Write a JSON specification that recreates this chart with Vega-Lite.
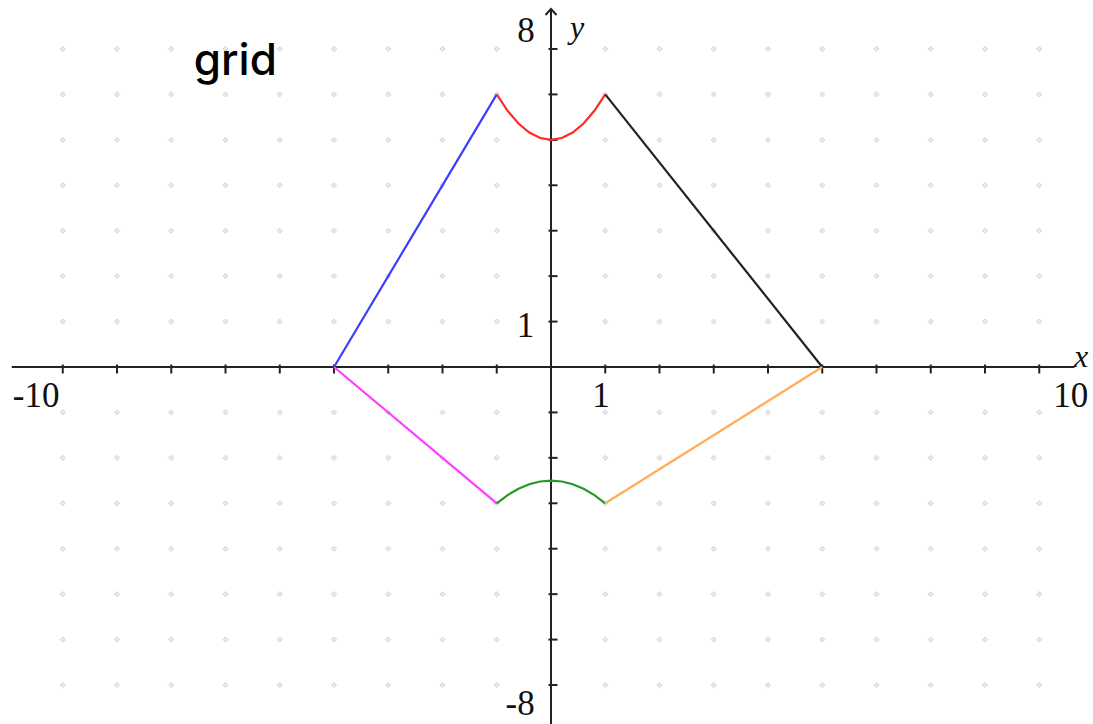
{
  "$schema": "https://vega.github.io/schema/vega-lite/v6.json",
  "width": 1093,
  "height": 724,
  "autosize": "none",
  "padding": 0,
  "background": "white",
  "config": {"view": {"stroke": null}},
  "datasets": {
    "dots": [
      {"y": 7, "xs": [-9,-8,-7,-6,-5,-4,-3,-2,-1,1,2,3,4,5,6,7,8,9]},
      {"y": 6, "xs": [-9,-8,-7,-6,-5,-4,-3,-2,-1,1,2,3,4,5,6,7,8,9]},
      {"y": 5, "xs": [-9,-8,-7,-6,-5,-4,-3,-2,-1,1,2,3,4,5,6,7,8,9]},
      {"y": 4, "xs": [-9,-8,-7,-6,-5,-4,-3,-2,-1,1,2,3,4,5,6,7,8,9]},
      {"y": 3, "xs": [-9,-8,-7,-6,-5,-4,-3,-2,-1,1,2,3,4,5,6,7,8,9]},
      {"y": 2, "xs": [-9,-8,-7,-6,-5,-4,-3,-2,-1,1,2,3,4,5,6,7,8,9]},
      {"y": 1, "xs": [-9,-8,-7,-6,-5,-4,-3,-2,-1,1,2,3,4,5,6,7,8,9]},
      {"y": -1, "xs": [-9,-8,-7,-6,-5,-4,-3,-2,-1,1,2,3,4,5,6,7,8,9]},
      {"y": -2, "xs": [-9,-8,-7,-6,-5,-4,-3,-2,-1,1,2,3,4,5,6,7,8,9]},
      {"y": -3, "xs": [-9,-8,-7,-6,-5,-4,-3,-2,-1,1,2,3,4,5,6,7,8,9]},
      {"y": -4, "xs": [-9,-8,-7,-6,-5,-4,-3,-2,-1,1,2,3,4,5,6,7,8,9]},
      {"y": -5, "xs": [-9,-8,-7,-6,-5,-4,-3,-2,-1,1,2,3,4,5,6,7,8,9]},
      {"y": -6, "xs": [-9,-8,-7,-6,-5,-4,-3,-2,-1,1,2,3,4,5,6,7,8,9]},
      {"y": -7, "xs": [-9,-8,-7,-6,-5,-4,-3,-2,-1,1,2,3,4,5,6,7,8,9]}
    ],
    "xticks": [
      {"v": -9}, {"v": -8}, {"v": -7}, {"v": -6}, {"v": -5}, {"v": -4}, {"v": -3}, {"v": -2}, {"v": -1},
      {"v": 1}, {"v": 2}, {"v": 3}, {"v": 4}, {"v": 5}, {"v": 6}, {"v": 7}, {"v": 8}, {"v": 9}
    ],
    "yticks": [
      {"v": -7}, {"v": -6}, {"v": -5}, {"v": -4}, {"v": -3}, {"v": -2}, {"v": -1},
      {"v": 1}, {"v": 2}, {"v": 3}, {"v": 4}, {"v": 5}, {"v": 6}, {"v": 7}
    ],
    "curves": [
      {"seg": "blue", "i": 0, "x": -4, "y": 0},
      {"seg": "blue", "i": 1, "x": -1, "y": 6},
      {"seg": "red", "i": 0, "x": -1, "y": 6},
      {"seg": "red", "i": 1, "x": -0.8, "y": 5.64},
      {"seg": "red", "i": 2, "x": -0.6, "y": 5.36},
      {"seg": "red", "i": 3, "x": -0.4, "y": 5.16},
      {"seg": "red", "i": 4, "x": -0.2, "y": 5.04},
      {"seg": "red", "i": 5, "x": 0, "y": 5},
      {"seg": "red", "i": 6, "x": 0.2, "y": 5.04},
      {"seg": "red", "i": 7, "x": 0.4, "y": 5.16},
      {"seg": "red", "i": 8, "x": 0.6, "y": 5.36},
      {"seg": "red", "i": 9, "x": 0.8, "y": 5.64},
      {"seg": "red", "i": 10, "x": 1, "y": 6},
      {"seg": "black", "i": 0, "x": 1, "y": 6},
      {"seg": "black", "i": 1, "x": 5, "y": 0},
      {"seg": "magenta", "i": 0, "x": -4, "y": 0},
      {"seg": "magenta", "i": 1, "x": -1, "y": -3},
      {"seg": "green", "i": 0, "x": -1, "y": -3},
      {"seg": "green", "i": 1, "x": -0.8, "y": -2.82},
      {"seg": "green", "i": 2, "x": -0.6, "y": -2.68},
      {"seg": "green", "i": 3, "x": -0.4, "y": -2.58},
      {"seg": "green", "i": 4, "x": -0.2, "y": -2.52},
      {"seg": "green", "i": 5, "x": 0, "y": -2.5},
      {"seg": "green", "i": 6, "x": 0.2, "y": -2.52},
      {"seg": "green", "i": 7, "x": 0.4, "y": -2.58},
      {"seg": "green", "i": 8, "x": 0.6, "y": -2.68},
      {"seg": "green", "i": 9, "x": 0.8, "y": -2.82},
      {"seg": "green", "i": 10, "x": 1, "y": -3},
      {"seg": "orange", "i": 0, "x": 1, "y": -3},
      {"seg": "orange", "i": 1, "x": 5, "y": 0}
    ],
    "numlabels": [
      {"label": "-10", "x": -9.49, "y": -0.88},
      {"label": "1", "x": 0.92, "y": -0.88},
      {"label": "10", "x": 9.58, "y": -0.88},
      {"label": "8", "x": -0.46, "y": 7.15},
      {"label": "1", "x": -0.47, "y": 0.66},
      {"label": "-8", "x": -0.57, "y": -7.66}
    ],
    "varlabels": [
      {"label": "x", "x": 9.77, "y": 0.0},
      {"label": "y", "x": 0.48, "y": 7.24}
    ],
    "title": [
      {"label": "grid", "x": -5.82, "y": 6.43}
    ]
  },
  "resolve": {"scale": {"color": "independent"}},
  "layer": [
    {
      "data": {"name": "dots"},
      "transform": [{"flatten": ["xs"]}],
      "mark": {"type": "point", "shape": "diamond", "size": 26, "filled": true, "fill": "#e2e2e2", "stroke": "#c2c2c2", "strokeWidth": 1},
      "encoding": {
        "x": {"field": "xs", "type": "quantitative", "scale": {"domain": [-10.157, 9.991], "nice": false, "zero": false}, "axis": null},
        "y": {"field": "y", "type": "quantitative", "scale": {"domain": [-7.858, 8.078], "nice": false, "zero": false}, "axis": null}
      }
    },
    {
      "data": {"values": [{"x1": -9.94, "x2": 9.65, "y": 0}]},
      "mark": {"type": "rule", "color": "#222222", "strokeWidth": 2},
      "encoding": {
        "x": {"field": "x1", "type": "quantitative"},
        "x2": {"field": "x2"},
        "y": {"field": "y", "type": "quantitative"}
      }
    },
    {
      "data": {"values": [{"x": 0, "y1": -7.858, "y2": 7.87}]},
      "mark": {"type": "rule", "color": "#222222", "strokeWidth": 2},
      "encoding": {
        "x": {"field": "x", "type": "quantitative"},
        "y": {"field": "y1", "type": "quantitative"},
        "y2": {"field": "y2"}
      }
    },
    {
      "data": {"values": [{"x": 0, "y": 7.82}]},
      "mark": {"type": "point", "shape": "M-1,0.6L0,-0.5L1,0.6", "size": 121, "filled": false, "stroke": "#222222", "strokeWidth": 2, "opacity": 1},
      "encoding": {
        "x": {"field": "x", "type": "quantitative"},
        "y": {"field": "y", "type": "quantitative"}
      }
    },
    {
      "data": {"name": "xticks"},
      "mark": {"type": "tick", "orient": "vertical", "size": 9, "thickness": 2, "color": "#222222", "yOffset": 2, "opacity": 1},
      "encoding": {
        "x": {"field": "v", "type": "quantitative"},
        "y": {"datum": 0, "type": "quantitative"}
      }
    },
    {
      "data": {"name": "yticks"},
      "mark": {"type": "tick", "orient": "horizontal", "size": 9, "thickness": 2, "color": "#222222", "xOffset": 2, "opacity": 1},
      "encoding": {
        "y": {"field": "v", "type": "quantitative"},
        "x": {"datum": 0, "type": "quantitative"}
      }
    },
    {
      "data": {"name": "curves"},
      "mark": {"type": "line", "strokeWidth": 2.2},
      "encoding": {
        "x": {"field": "x", "type": "quantitative"},
        "y": {"field": "y", "type": "quantitative"},
        "detail": {"field": "seg"},
        "order": {"field": "i", "type": "quantitative"},
        "color": {
          "field": "seg",
          "type": "nominal",
          "scale": {"domain": ["blue", "red", "black", "magenta", "green", "orange"], "range": ["#3c3cff", "#ff2a2a", "#222222", "#ff3cff", "#249a24", "#ffad5a"]},
          "legend": null
        }
      }
    },
    {
      "data": {"name": "numlabels"},
      "mark": {"type": "text", "font": "Liberation Serif", "fontSize": 35, "align": "center", "baseline": "alphabetic", "color": "#111111"},
      "encoding": {
        "x": {"field": "x", "type": "quantitative"},
        "y": {"field": "y", "type": "quantitative"},
        "text": {"field": "label"}
      }
    },
    {
      "data": {"name": "varlabels"},
      "mark": {"type": "text", "font": "Liberation Serif", "fontStyle": "italic", "fontSize": 32, "align": "center", "baseline": "alphabetic", "color": "#111111"},
      "encoding": {
        "x": {"field": "x", "type": "quantitative"},
        "y": {"field": "y", "type": "quantitative"},
        "text": {"field": "label"}
      }
    },
    {
      "data": {"name": "title"},
      "mark": {"type": "text", "font": "Inter", "fontSize": 44, "fontWeight": 500, "align": "center", "baseline": "alphabetic", "color": "#000000"},
      "encoding": {
        "x": {"field": "x", "type": "quantitative"},
        "y": {"field": "y", "type": "quantitative"},
        "text": {"field": "label"}
      }
    }
  ]
}
